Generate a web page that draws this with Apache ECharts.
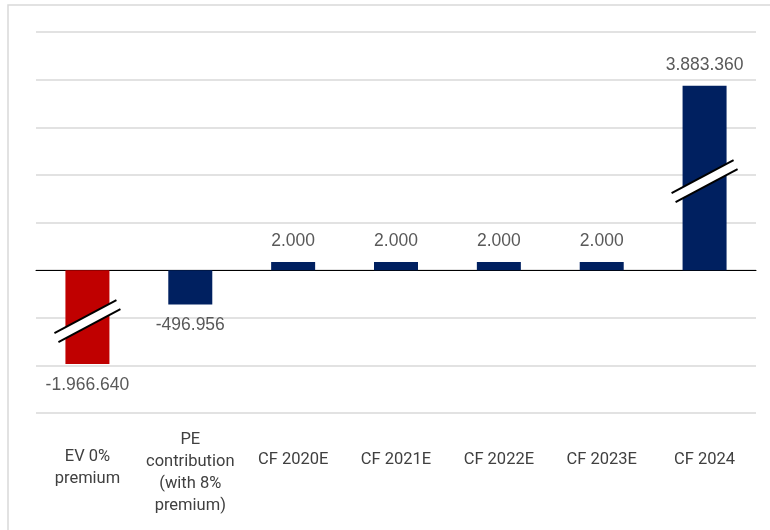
<!DOCTYPE html>
<html>
<head>
<meta charset="utf-8">
<script src="https://cdn.jsdelivr.net/npm/echarts@6/dist/echarts.min.js"></script>
<style>
  html, body { margin: 0; padding: 0; background: #fff; }
  #main { width: 770px; height: 530px; }
</style>
</head>
<body>
<div id="main"></div>
<script>
// categories on the x axis
var categories = ['EV 0%\npremium', 'PE\ncontribution\n(with 8%\npremium)', 'CF 2020E', 'CF 2021E', 'CF 2022E', 'CF 2023E', 'CF 2024'];
// bar heights as drawn (the original chart is not to scale, the big bars are broken)
var barHeights = [-1.97, -0.72, 0.17, 0.17, 0.17, 0.17, 3.87];
// value labels as printed on the chart
var valueLabels = ['-1.966.640', '-496.956', '2.000', '2.000', '2.000', '2.000', '3.883.360'];
// where the break marks sit: [category index, value]
var breakPoints = [[0, -1.07], [6, 1.87]];

var myChart = echarts.init(document.getElementById('main'));

var barData = barHeights.map(function (v, i) {
    return {
        value: v,
        itemStyle: { color: i === 0 ? '#c00000' : '#002060' },
        label: { position: v < 0 ? 'bottom' : 'top' }
    };
});

// push the shorter labels down so they sit like in the excel chart
var catData = categories.map(function (c) {
    var lines = c.split('\n').length;
    var shift = lines >= 4 ? 0 : (lines === 1 ? 20 : 17);
    return {
        value: c,
        textStyle: { verticalAlign: 'top', padding: [shift, 0, 0, 0] }
    };
});

option = {
    animation: false,
    backgroundColor: '#fff',
    graphic: [{
        type: 'rect',
        shape: { x: 8, y: 5, width: 780, height: 540 },
        style: { fill: 'none', stroke: '#d9d9d9', lineWidth: 1.5 },
        silent: true
    }],
    grid: {
        left: 36,
        right: 14,
        top: 32,
        bottom: 117,
        outerBoundsMode: 'none'
    },
    xAxis: {
        type: 'category',
        data: catData,
        axisTick: { show: false },
        axisLine: { onZero: true, lineStyle: { color: '#000', width: 1 } },
        axisLabel: {
            interval: 0,
            fontFamily: 'Roboto, sans-serif',
            fontSize: 16.5,
            lineHeight: 22,
            color: '#404040',
            verticalAlign: 'top',
            margin: 16
        }
    },
    yAxis: {
        type: 'value',
        min: -3,
        max: 5,
        interval: 1,
        axisLabel: { show: false },
        axisLine: { show: false },
        axisTick: { show: false },
        splitLine: { lineStyle: { color: '#d9d9d9', width: 1.5 } }
    },
    series: [{
        type: 'bar',
        data: barData,
        barWidth: 44,
        z: 2,
        label: {
            show: true,
            distance: 12,
            fontFamily: 'Liberation Sans, sans-serif',
            fontSize: 17.5,
            color: '#595959',
            formatter: function (p) { return valueLabels[p.dataIndex]; }
        }
    }, {
        // double slash break marks on the truncated bars
        type: 'custom',
        data: breakPoints,
        z: 5,
        silent: true,
        renderItem: function (params, api) {
            var c = api.coord([api.value(0), api.value(1)]);
            var x = c[0], y = c[1];
            return {
                type: 'group',
                children: [{
                    type: 'polygon',
                    shape: { points: [[x - 33, y + 12], [x + 29, y - 21], [x + 33, y - 12], [x - 29, y + 21]] },
                    style: { fill: '#fff' }
                }, {
                    type: 'line',
                    shape: { x1: x - 33, y1: y + 12, x2: x + 29, y2: y - 21 },
                    style: { stroke: '#000', lineWidth: 2 }
                }, {
                    type: 'line',
                    shape: { x1: x - 29, y1: y + 21, x2: x + 33, y2: y - 12 },
                    style: { stroke: '#000', lineWidth: 2 }
                }]
            };
        }
    }]
};
myChart.setOption(option);
</script>
</body>
</html>
